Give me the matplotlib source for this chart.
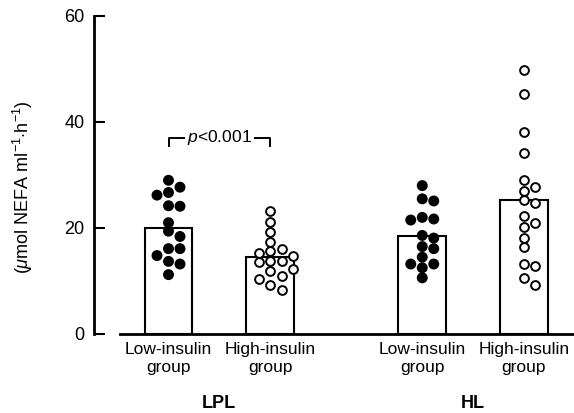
import numpy as np
import matplotlib
matplotlib.use("Agg")
import matplotlib.pyplot as plt

plt.rcParams['font.family'] = ['Liberation Sans', 'DejaVu Sans']
plt.rcParams['mathtext.fontset'] = 'custom'
plt.rcParams['mathtext.rm'] = 'Liberation Sans'
plt.rcParams['mathtext.it'] = 'Liberation Sans:italic'

# --- data ---
groups = ["LPL", "HL"]
conditions = ["Low-insulin\ngroup", "High-insulin\ngroup"]
bar_heights = [20.0, 14.5, 18.4, 25.3]

lpl_low = [29.0, 27.7, 26.7, 26.2, 24.2, 24.1, 21.0, 19.4, 18.4, 16.1, 16.1, 14.8, 13.7, 13.2, 11.2]
lpl_high = [23.2, 21.1, 19.2, 17.3, 16.1, 15.7, 15.3, 14.8, 13.7, 13.7, 13.5, 12.2, 11.9, 10.9, 10.4, 9.3, 8.3]
hl_low = [28.0, 25.5, 25.1, 22.0, 21.7, 21.5, 18.6, 18.1, 16.5, 16.1, 14.5, 13.2, 13.2, 12.5, 10.6]
hl_high = [49.8, 45.3, 38.2, 34.2, 29.1, 27.7, 27.0, 25.3, 24.8, 22.3, 20.9, 20.1, 18.2, 16.5, 13.2, 12.9, 10.6, 9.2]
series = [lpl_low, lpl_high, hl_low, hl_high]
p_label = "$p$<0.001"


def swarm_x(ax, x0, vals, step_px=11.5, min_px=8.0):
    # simple greedy beeswarm in pixel space
    trans = ax.transData
    placed = []
    out = [0.0] * len(vals)
    order = sorted(range(len(vals)), key=lambda i: -vals[i])
    for i in order:
        cx, cy = trans.transform((x0, vals[i]))
        px = cx
        for k in [0, 1, -1, 2, -2, 3, -3]:
            px = cx + k * step_px
            if all(np.hypot(px - qx, cy - qy) >= min_px for qx, qy in placed):
                break
        placed.append((px, cy))
        out[i] = trans.inverted().transform((px, cy))[0]
    return out


fig = plt.figure(figsize=(5.74, 4.13), dpi=100)
ax = fig.add_axes([94 / 574, 79 / 413, 480 / 574, 318 / 413])

# positions: two bars per group, wider gap between groups
positions = [g * 2.5 + i for g in range(len(groups)) for i in range(len(conditions))]
ax.set_xlim(-0.734, 3.995)
ax.set_ylim(0, 60)

ax.bar(positions, bar_heights, width=0.47, facecolor="white",
       edgecolor="black", linewidth=1.5, zorder=2)

for j, (pos, vals) in enumerate(zip(positions, series)):
    xs = swarm_x(ax, pos, vals)
    if j % 2 == 0:
        ax.scatter(xs, vals, s=62, c="black", edgecolors="none", zorder=3, clip_on=False)
    else:
        ax.scatter(xs, vals, s=40, facecolors="white", edgecolors="black",
                   linewidths=1.4, zorder=3, clip_on=False)

# significance bracket between LPL groups
yb = 37.0
ax.plot([positions[0], positions[0], positions[1], positions[1]],
        [yb - 1.6, yb, yb, yb - 1.6], color="black", lw=1.4, zorder=2)
ax.text((positions[0] + positions[1]) / 2, yb, p_label, ha="center", va="center",
        fontsize=12.5, zorder=3, bbox=dict(facecolor="white", edgecolor="none", pad=1.5))

# axes styling
for side in ["top", "right"]:
    ax.spines[side].set_visible(False)
ax.spines["left"].set_linewidth(2)
ax.spines["left"].set_bounds(0, 60)
ax.spines["bottom"].set_linewidth(2)
ax.spines["bottom"].set_bounds(-0.478, 3.995)

ax.set_yticks([0, 20, 40, 60])
ax.tick_params(axis="y", direction="in", length=8, width=1.5, labelsize=13, pad=7)
ax.set_xticks(positions)
ax.set_xticklabels(conditions * len(groups))
ax.tick_params(axis="x", length=0, labelsize=12.5, pad=6)

for g, name in enumerate(groups):
    mid = (positions[2 * g] + positions[2 * g + 1]) / 2
    ax.text(mid, -0.22, name, transform=ax.get_xaxis_transform(), ha="center",
            va="center", fontsize=13, fontweight="bold")

fig.text(23 / 574, 1 - 187 / 413, r"($\mu$mol NEFA ml$^{-1}$$\cdot$h$^{-1}$)",
         rotation=90, ha="center", va="center", fontsize=13)

fig.savefig("out.png", dpi=100)
